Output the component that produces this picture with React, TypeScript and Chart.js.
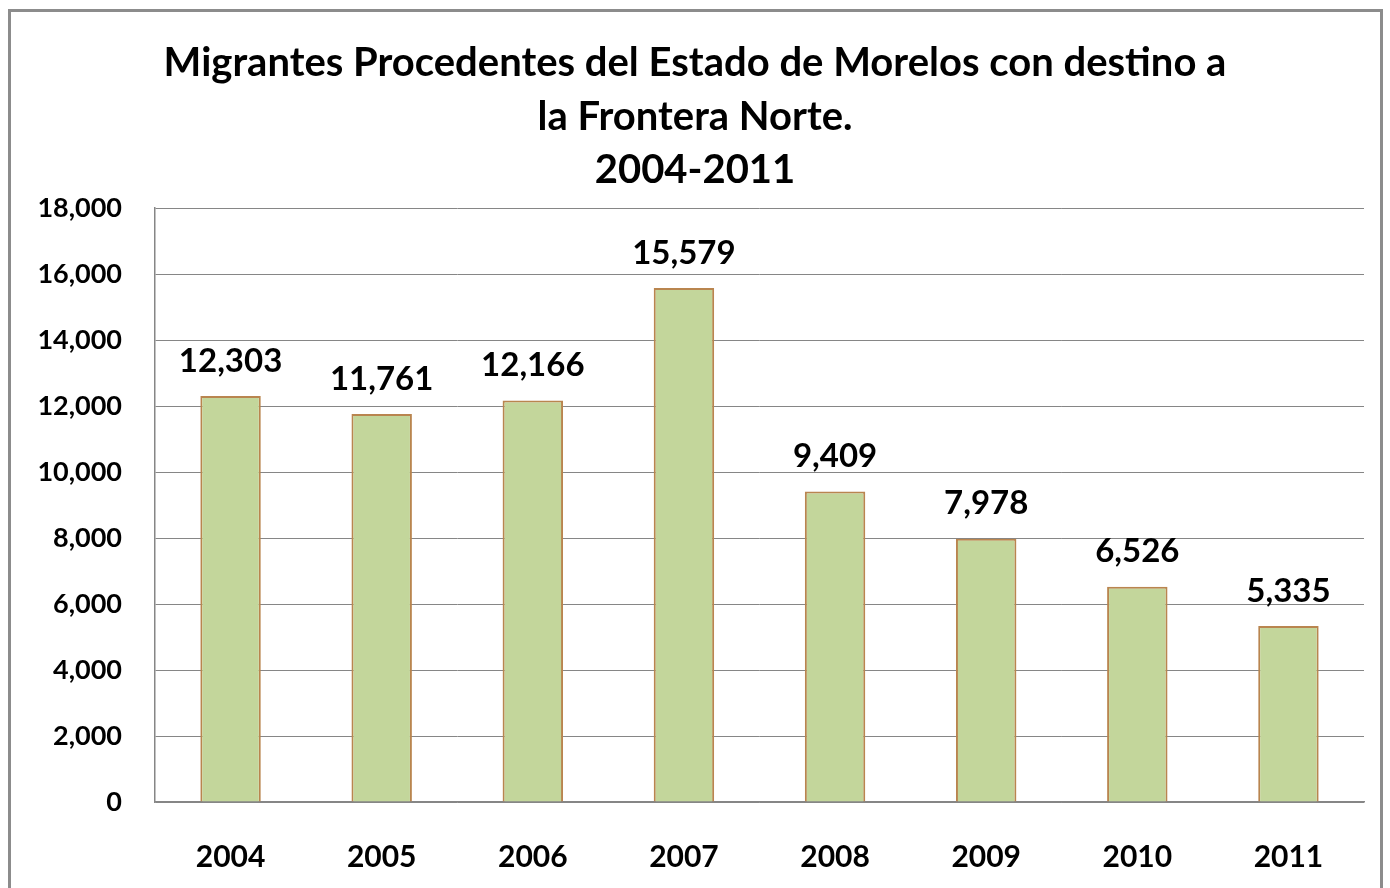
import React, { useEffect, useRef } from "react";
import { Chart, registerables } from "chart.js";

Chart.register(...registerables);

const years = ["2004", "2005", "2006", "2007", "2008", "2009", "2010", "2011"];
const migrants = [12303, 11761, 12166, 15579, 9409, 7978, 6526, 5335];
const titleLines = [
  "Migrantes Procedentes del Estado de Morelos con destino a",
  "la Frontera Norte.",
  "2004-2011",
];
const FONT = "Lato, 'Open Sans', sans-serif";

const fmt = (v: number) => v.toLocaleString("en-US");

const titlePlugin = {
  id: "titleLines",
  afterDraw(chart: any) {
    const ctx = chart.ctx;
    ctx.save();
    ctx.fillStyle = "#000";
    ctx.font = `bold 40px ${FONT}`;
    ctx.textAlign = "center";
    ctx.textBaseline = "middle";
    const ys = [63, 117, 170];
    titleLines.forEach((t, i) => ctx.fillText(t, 695, ys[i]));
    ctx.restore();
  },
};

const labelPlugin = {
  id: "barLabels",
  afterDatasetsDraw(chart: any) {
    const ctx = chart.ctx;
    const meta = chart.getDatasetMeta(0);
    ctx.save();
    ctx.fillStyle = "#000";
    ctx.font = `bold 33px ${FONT}`;
    ctx.textAlign = "center";
    ctx.textBaseline = "middle";
    meta.data.forEach((bar: any, i: number) => {
      ctx.fillText(fmt(migrants[i]), bar.x, bar.y - 35);
    });
    ctx.restore();
  },
};

export default function App() {
  const ref = useRef<HTMLCanvasElement>(null);
  useEffect(() => {
    document.body.style.margin = "0";
    const chart = new Chart(ref.current!, {
      type: "bar",
      data: {
        labels: years,
        datasets: [
          {
            data: migrants,
            backgroundColor: "#C3D69B",
            borderColor: "#B9854F",
            borderWidth: 2,
            categoryPercentage: 0.8,
            barPercentage: 0.5,
          },
        ],
      },
      options: {
        animation: false,
        responsive: false,
        layout: { padding: { top: 208, right: 26, left: 0, bottom: 0 } },
        plugins: { legend: { display: false }, title: { display: false }, tooltip: { enabled: false } },
        scales: {
          x: {
            grid: { display: false, drawTicks: false },
            border: { color: "#868686", width: 1.5 },
            ticks: { color: "#000", font: { family: FONT, size: 30, weight: "bold" }, padding: 37 },
            afterFit(scale: any) {
              scale.height = 86;
            },
          },
          y: {
            min: 0,
            max: 18000,
            grid: { color: "#868686", lineWidth: 1, drawTicks: false },
            border: { color: "#868686", width: 1.5 },
            ticks: {
              stepSize: 2000,
              color: "#000",
              font: { family: FONT, size: 27, weight: "bold" },
              padding: 33,
              callback: (v: any) => fmt(Number(v)),
            },
            afterFit(scale: any) {
              scale.width = 155;
            },
          },
        },
      },
      plugins: [titlePlugin, labelPlugin],
    });
    return () => chart.destroy();
  }, []);
  return (
    <div style={{ position: "absolute", left: 0, top: 0, width: 1390, height: 888, background: "#fff" }}>
      <canvas ref={ref} width={1390} height={888} style={{ display: "block" }} />
      <div
        style={{
          position: "absolute",
          left: 8,
          top: 9,
          width: 1375,
          height: 900,
          border: "3px solid #8C8C8C",
          boxSizing: "border-box",
          pointerEvents: "none",
        }}
      />
    </div>
  );
}
